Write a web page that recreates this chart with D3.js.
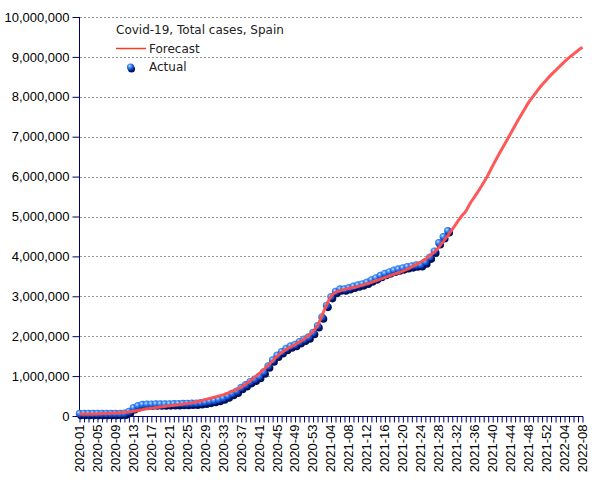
<!DOCTYPE html>
<html><head><meta charset="utf-8">
<script src="https://cdn.jsdelivr.net/npm/d3@7"></script>
<style>body{margin:0;background:#fff}</style>
</head><body>
<svg id="chart" width="605" height="480"></svg>
<script>
// ---- data ----
const yearWeeks = [[2020, 53], [2021, 52], [2022, 8]];
const weeks = [];
yearWeeks.forEach(([y, n]) => { for (let w = 1; w <= n; w++) weeks.push(y + "-" + String(w).padStart(2, "0")); });

// total cases, millions (2020-01 .. 2021-30)
const actualM = [
  0, 0, 0, 0, 0, 0, 0, 0, 0, 0.001,
  0.008, 0.05, 0.145, 0.195, 0.225, 0.23, 0.235, 0.238, 0.24, 0.24,
  0.242, 0.245, 0.247, 0.25, 0.252, 0.256, 0.26, 0.27, 0.285, 0.305,
  0.325, 0.35, 0.39, 0.44, 0.50, 0.56, 0.65, 0.72, 0.80, 0.86,
  0.93, 1.04, 1.19, 1.34, 1.46, 1.55, 1.63, 1.69, 1.73, 1.80,
  1.86, 1.92, 2.03, 2.20, 2.42, 2.71, 2.93, 3.06, 3.12, 3.12,
  3.15, 3.19, 3.22, 3.25, 3.29, 3.35, 3.40, 3.46, 3.51, 3.55,
  3.59, 3.62, 3.65, 3.68, 3.70, 3.72, 3.73, 3.80, 3.92, 4.07,
  4.28, 4.43, 4.58
];
// forecast, millions (2020-01 .. 2022-08)
const forecastM = [
  0.05, 0.05, 0.05, 0.05, 0.055, 0.06, 0.065, 0.07, 0.075, 0.08,
  0.09, 0.105, 0.12, 0.14, 0.16, 0.18, 0.195, 0.21, 0.225, 0.24,
  0.255, 0.27, 0.285, 0.30, 0.31, 0.33, 0.35, 0.38, 0.41, 0.44,
  0.47, 0.50, 0.53, 0.57, 0.62, 0.67, 0.72, 0.80, 0.88, 0.97,
  1.06, 1.16, 1.27, 1.38, 1.50, 1.59, 1.67, 1.73, 1.79, 1.86,
  1.93, 2.02, 2.12, 2.27, 2.52, 2.78, 3.00, 3.10, 3.14, 3.17,
  3.20, 3.22, 3.25, 3.28, 3.31, 3.35, 3.39, 3.43, 3.47, 3.51,
  3.55, 3.59, 3.63, 3.68, 3.74, 3.80, 3.86, 3.93, 4.02, 4.11,
  4.23, 4.37, 4.52, 4.68, 4.84, 5.00, 5.13, 5.33, 5.50, 5.67,
  5.85, 6.05, 6.27, 6.48, 6.68, 6.88, 7.08, 7.28, 7.48, 7.67,
  7.86, 8.01, 8.16, 8.30, 8.43, 8.55, 8.66, 8.77, 8.88, 8.98,
  9.07, 9.16, 9.24
];
const unit = 1e6;
const yTicks = [0, 1e6, 2e6, 3e6, 4e6, 5e6, 6e6, 7e6, 8e6, 9e6, 1e7];
const labelStep = 4;
const title = "Covid-19, Total cases, Spain";
const seriesNames = ["Forecast", "Actual"];

// ---- layout ----
const svg = d3.select("#chart");
const x = d3.scalePoint().domain(weeks).range([79.5, 582.5]);
const y = d3.scaleLinear().domain([0, 1e7]).range([416, 17]);
const axisColor = "#000066";

// gridlines
svg.append("g").selectAll("line").data(yTicks.filter(d => d > 0)).join("line")
  .attr("x1", 80).attr("x2", 583)
  .attr("y1", d => Math.round(y(d)) + 0.5).attr("y2", d => Math.round(y(d)) + 0.5)
  .attr("stroke", "#999").attr("stroke-dasharray", "2,2").attr("stroke-width", 1);

// y axis
const yAxis = d3.axisLeft(y).tickValues(yTicks).tickSize(7).tickPadding(3)
  .tickFormat(d => d === 0 ? "0" : d3.format(",")(d));
const gy = svg.append("g").attr("transform", "translate(79.5,0)").call(yAxis);
gy.select(".domain").attr("stroke", axisColor).attr("d", "M0," + y(1e7) + "V" + y(0));
gy.selectAll(".tick line").attr("stroke", axisColor);
gy.selectAll("text").attr("font-family", "'Liberation Sans', Arial, sans-serif").attr("font-size", 13).attr("fill", "#000");

// x axis
const xAxis = d3.axisBottom(x).tickSize(6).tickPadding(3)
  .tickFormat((d, i) => i % labelStep === 0 ? d : "");
const gx = svg.append("g").attr("transform", "translate(0,416.5)").call(xAxis);
gx.select(".domain").attr("stroke", axisColor).attr("d", "M79.5,0H583");
gx.selectAll(".tick line").attr("stroke", axisColor);
gx.selectAll("text")
  .attr("font-family", "'Liberation Sans', Arial, sans-serif").attr("font-size", 13).attr("fill", "#000")
  .attr("text-anchor", "end").attr("transform", "rotate(-90)")
  .attr("x", -8).attr("y", 0).attr("dx", 0).attr("dy", "0.3em");

// gradient for spheres
const defs = svg.append("defs");
const grad = defs.append("radialGradient").attr("id", "ball").attr("cx", "38%").attr("cy", "35%").attr("r", "65%");
grad.append("stop").attr("offset", "0%").attr("stop-color", "#d8ecff");
grad.append("stop").attr("offset", "25%").attr("stop-color", "#5aa6ff");
grad.append("stop").attr("offset", "65%").attr("stop-color", "#1a5fe0");
grad.append("stop").attr("offset", "100%").attr("stop-color", "#0b34a8");

const actual = actualM.map((v, i) => ({ w: weeks[i], v: v * unit }));
const forecast = forecastM.map((v, i) => ({ w: weeks[i], v: v * unit }));

// shadows
svg.append("g").selectAll("circle").data(actual).join("circle")
  .attr("cx", d => x(d.w) + 1.5).attr("cy", d => y(d.v) - 0.5).attr("r", 3.8)
  .attr("fill", "#00105a");
// balls
svg.append("g").selectAll("circle").data(actual).join("circle")
  .attr("cx", d => x(d.w)).attr("cy", d => y(d.v) - 2.5).attr("r", 3.7)
  .attr("fill", "url(#ball)");

// forecast line
svg.append("path").datum(forecast)
  .attr("d", d3.line().x(d => x(d.w)).y(d => y(d.v)).curve(d3.curveMonotoneX))
  .attr("fill", "none").attr("stroke", "#ff4f4f").attr("stroke-width", 3).attr("stroke-opacity", 0.95)
  .attr("stroke-linejoin", "round");

// legend
const lg = svg.append("g").attr("font-family", "'DejaVu Sans', Verdana, sans-serif").attr("font-size", 12).attr("fill", "#222");
lg.append("text").attr("x", 116).attr("y", 34).text(title);
lg.append("line").attr("x1", 116).attr("x2", 146).attr("y1", 48.5).attr("y2", 48.5)
  .attr("stroke", "#ff3a1a").attr("stroke-width", 1.5);
lg.append("text").attr("x", 149).attr("y", 52.5).text(seriesNames[0]);
lg.append("circle").attr("cx", 131.5).attr("cy", 69).attr("r", 3.5).attr("fill", "#00105a");
lg.append("circle").attr("cx", 130.5).attr("cy", 67).attr("r", 3.6).attr("fill", "url(#ball)");
lg.append("text").attr("x", 149).attr("y", 71).text(seriesNames[1]);
</script>
</body></html>
